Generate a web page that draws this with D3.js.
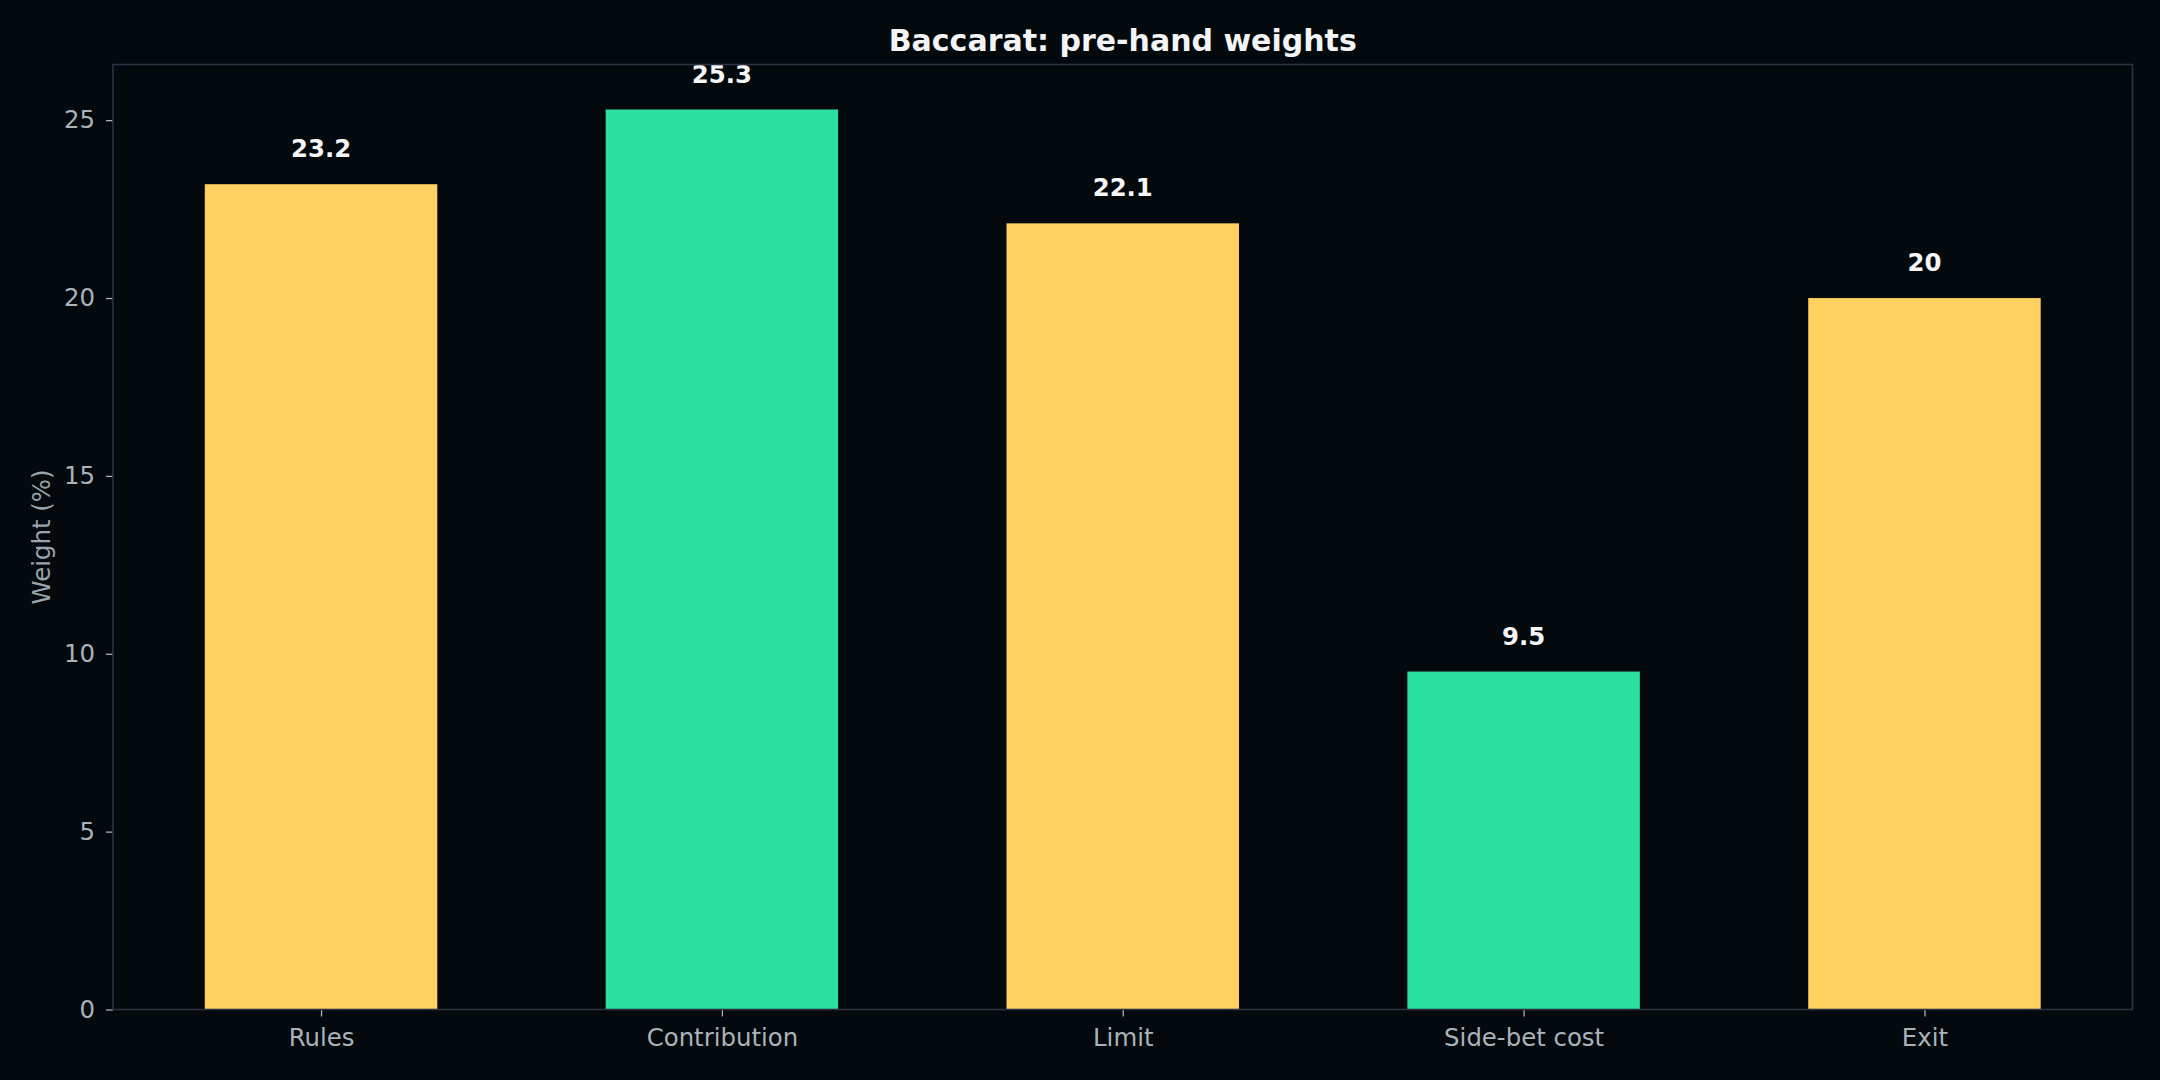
<html>
  <head>
    <meta charset='utf-8'>
    <script src='https://d3js.org/d3.v7.min.js'></script>
    <style>
      body { margin: 0; background: #03090c; }
      text { font-family: 'DejaVu Sans', sans-serif; }
    </style>
  </head>
  <body>
    <div id='chart'></div>
    <script>
        // data
        const categories = ['Rules', 'Contribution', 'Limit', 'Side-bet cost', 'Exit'];
        const weights = [23.2, 25.3, 22.1, 9.5, 20];
        const valueLabels = ['23.2', '25.3', '22.1', '9.5', '20'];
        const barColors = ['#ffd160', '#2ae1a0', '#ffd160', '#2ae1a0', '#ffd160'];
        const yTicks = [0, 5, 10, 15, 20, 25];

        const W = 2160, H = 1080;
        const margin = { left: 113, right: 27.5, top: 64.5, bottom: 70.5 };
        const barWidth = 0.58;

        var svg = d3.select('#chart').append('svg')
                    .attr('width', W)
                    .attr('height', H);

        svg.append('rect').attr('width', W).attr('height', H).attr('fill', '#03090c');

        // matplotlib style 5% margin around the bars
        const span = (categories.length - 1) + barWidth;
        const pad = span * 0.05;
        const x = d3.scaleLinear()
                    .domain([-barWidth / 2 - pad, categories.length - 1 + barWidth / 2 + pad])
                    .range([margin.left, W - margin.right]);
        const y = d3.scaleLinear()
                    .domain([0, d3.max(weights) * 1.05])
                    .range([H - margin.bottom, margin.top]);

        var bars_g = svg.append('g');
        bars_g.selectAll('rect')
              .data(weights)
              .enter().append('rect')
              .attr('x', (d, i) => x(i - barWidth / 2))
              .attr('width', (d, i) => x(i + barWidth / 2) - x(i - barWidth / 2))
              .attr('y', d => y(d))
              .attr('height', d => y(0) - y(d))
              .attr('fill', (d, i) => barColors[i]);

        bars_g.selectAll('text')
              .data(weights)
              .enter().append('text')
              .attr('x', (d, i) => x(i))
              .attr('y', d => y(d) - 27)
              .attr('text-anchor', 'middle')
              .attr('font-size', 24.4)
              .attr('font-weight', 'bold')
              .attr('fill', '#f4f6f8')
              .text((d, i) => valueLabels[i]);

        // axes
        var yAxis = svg.append('g')
                       .attr('transform', 'translate(' + margin.left + ',0)')
                       .call(d3.axisLeft(y).tickValues(yTicks).tickSize(7).tickPadding(11));
        var xAxis = svg.append('g')
                       .attr('transform', 'translate(0,' + (H - margin.bottom) + ')')
                       .call(d3.axisBottom(x).tickValues(d3.range(categories.length))
                               .tickFormat(i => categories[i]).tickSize(7).tickPadding(12));

        [xAxis, yAxis].forEach(function(ax) {
            ax.select('.domain').remove();
            ax.selectAll('line').attr('stroke', '#a8b2ba').attr('stroke-width', 1.3);
            ax.selectAll('text')
              .attr('font-size', 24.4)
              .attr('font-family', "'DejaVu Sans', sans-serif")
              .attr('fill', '#a8b4ba');
        });

        // frame
        svg.append('rect')
           .attr('x', margin.left)
           .attr('y', margin.top)
           .attr('width', W - margin.left - margin.right)
           .attr('height', H - margin.top - margin.bottom)
           .attr('fill', 'none')
           .attr('stroke', '#2c3244')
           .attr('stroke-width', 1.6);

        svg.append('text')
           .attr('x', (margin.left + W - margin.right) / 2)
           .attr('y', 50.7)
           .attr('text-anchor', 'middle')
           .attr('font-size', 30)
           .attr('font-weight', 'bold')
           .attr('fill', '#f2f4f6')
           .text('Baccarat: pre-hand weights');

        svg.append('text')
           .attr('transform', 'translate(50,' + ((margin.top + H - margin.bottom) / 2) + ') rotate(-90)')
           .attr('text-anchor', 'middle')
           .attr('font-size', 24.4)
           .attr('fill', '#98a4aa')
           .text('Weight (%)');
    </script>
  </body>
</html>
